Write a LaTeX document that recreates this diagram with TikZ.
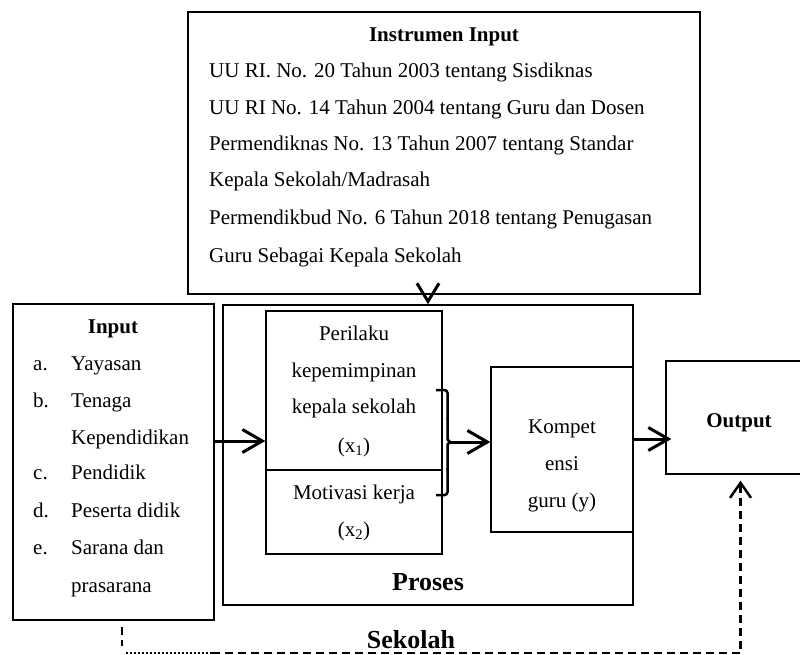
\documentclass[tikz,border=0pt]{standalone}
\usepackage{fontspec}
\setmainfont{Liberation Serif}
\usetikzlibrary{arrows.meta}
\begin{document}
\begin{tikzpicture}[x=1pt,y=-1pt,
  box/.style={draw, line width=1.3pt, inner sep=0pt, rectangle},
  txt/.style={font=\fontsize{21}{21}\selectfont, inner sep=0pt, anchor=base west},
  ctxt/.style={font=\fontsize{21}{21}\selectfont, inner sep=0pt, anchor=base},
  btxt/.style={font=\fontsize{21}{21}\selectfont\bfseries, inner sep=0pt, anchor=base},
  bigtxt/.style={font=\fontsize{26}{26}\selectfont\bfseries, inner sep=0pt, anchor=base},
  arr/.style={line width=3pt, -{Straight Barb[length=20pt,width=23pt,line width=3pt]}},
  chev/.style={line width=3pt, line join=miter},
  fbdash/.style={line width=2.5pt, dash pattern=on 8pt off 5pt},
  fbdot/.style={line width=2.5pt, dash pattern=on 2pt off 2pt},
  bracepath/.style={line width=2.5pt}
]
\useasboundingbox (0,0) rectangle (800,655);

% boxes
\node[box, minimum width=512pt, minimum height=282pt] (instr) at (444,153) {};
\node[box, minimum width=201pt, minimum height=316pt] (input) at (113.5,462) {};
\node[box, minimum width=410pt, minimum height=300pt] (proses) at (428,455) {};
\node[box, minimum width=176pt, minimum height=159pt] (peri) at (354,390.5) {};
\node[box, minimum width=176pt, minimum height=84pt] (moti) at (354,512) {};
\node[box, minimum width=142pt, minimum height=165pt] (komp) at (562,449.5) {};
\node[box, minimum width=149pt, minimum height=113pt] (output) at (740.5,417.5) {};

% Instrumen input text
\node[btxt] (ititle) at (444,42) {Instrumen Input};
\node[txt] (i1) at (209,78) {UU RI. No. 20 Tahun 2003 tentang Sisdiknas};
\node[txt] (i2) at (209,115) {UU RI No. 14 Tahun 2004 tentang Guru dan Dosen};
\node[txt] (i3) at (209,151) {Permendiknas No. 13 Tahun 2007 tentang Standar};
\node[txt] (i4) at (209,187) {Kepala Sekolah/Madrasah};
\node[txt] (i5) at (209,224) {Permendikbud No. 6 Tahun 2018 tentang Penugasan};
\node[txt] (i6) at (209,262) {Guru Sebagai Kepala Sekolah};

% Input text
\node[btxt] (intitle) at (113,333) {Input};
\node[txt] (la) at (33,370) {a.};
\node[txt] (ta) at (71,370) {Yayasan};
\node[txt] (lb) at (33,407) {b.};
\node[txt] (tb) at (71,407) {Tenaga};
\node[txt] (tb2) at (71,444) {Kependidikan};
\node[txt] (lc) at (33,479) {c.};
\node[txt] (tc) at (71,479) {Pendidik};
\node[txt] (ld) at (33,517) {d.};
\node[txt] (td) at (71,517) {Peserta didik};
\node[txt] (le) at (33,554) {e.};
\node[txt] (te) at (71,554) {Sarana dan};
\node[txt] (te2) at (71,592) {prasarana};

% Perilaku / Motivasi
\node[ctxt] (p1) at (354,340) {Perilaku};
\node[ctxt] (p2) at (354,377) {kepemimpinan};
\node[ctxt] (p3) at (354,413) {kepala sekolah};
\node[ctxt] (p4) at (354,452) {(x\textsubscript{1})};
\node[ctxt] (m1) at (354,499) {Motivasi kerja};
\node[ctxt] (m2) at (354,536) {(x\textsubscript{2})};

% Kompetensi
\node[ctxt] (k1) at (562,433) {Kompet};
\node[ctxt] (k2) at (562,470) {ensi};
\node[ctxt] (k3) at (562,507) {guru (y)};

% Output, Proses
\node[btxt] (outtxt) at (739,427) {Output};
\node[bigtxt] (prostxt) at (428,590) {Proses};

% arrows
\coordinate (lvl1) at (0,441);
\coordinate (lvl2) at (0,439);
\draw[arr] (input.east |- lvl1) -- (peri.west |- lvl1);
% chevron from Instrumen Input into Proses
\draw[chev] ([xshift=-11pt,yshift=21pt]proses.north) -- ([yshift=3pt]proses.north) -- ([xshift=11pt,yshift=21pt]proses.north);

% brace
\coordinate (brtip) at (450,442);
\draw[bracepath, rounded corners=3pt] (436,390) -- (447.5,390) -- (447.5,420);
\draw[bracepath] (447.5,418) -- (447.5,439.5) -- (brtip) -- (447.5,444.5) -- (447.5,470);
\draw[bracepath, rounded corners=3pt] (447.5,468) -- (447.5,495) -- (436,495);
\draw[arr] (brtip) -- (komp.west |- brtip);
\draw[arr] (komp.east |- lvl2) -- ([xshift=6pt]output.west |- lvl2);

% feedback
\coordinate (fa) at (122,627);
\coordinate (fa2) at (122,646);
\coordinate (fd1) at (126,653);
\coordinate (fd2) at (212,653);
\draw[fbdash] (fa) -- (fa2);
\draw[fbdot] (fd1) -- (fd2);
\draw[fbdash, -{Straight Barb[length=15pt,width=21pt,line width=2.5pt]}] (fd2) -- (output.south |- fd2) -- ([yshift=-6pt]output.south);

\node[bigtxt] (sek) at (411,648) {Sekolah};
\end{tikzpicture}
\end{document}
